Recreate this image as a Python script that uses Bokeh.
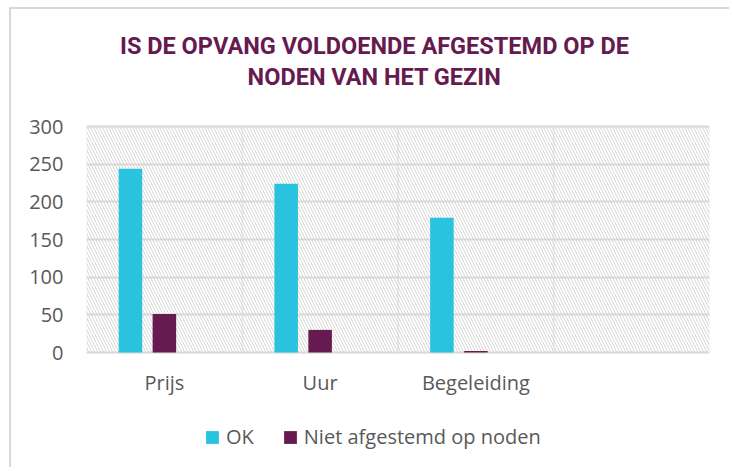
from bokeh.plotting import figure
from bokeh.models import (Range1d, FactorRange, FixedTicker, BoxAnnotation,
                          Legend, LegendItem, ColumnDataSource, Label)
from bokeh.transform import dodge
from bokeh.embed import file_html
from bokeh.resources import INLINE

# ---------------- data ----------------
title_lines = ["IS DE OPVANG VOLDOENDE AFGESTEMD OP DE", "NODEN VAN HET GEZIN"]
categories = ["Prijs", "Uur", "Begeleiding", " "]
series_names = ["OK", "Niet afgestemd op noden"]
ok_values = [244, 224, 179]
niet_values = [51, 30, 2]
y_ticks = [0, 50, 100, 150, 200, 250, 300]

# ---------------- style / layout ----------------
OK_COLOR = "#29C3E0"
NIET_COLOR = "#661A4F"
GRID = "#D9D9D9"
TEXT = "#595959"
FONT = "Open Sans"

W, H = 720, 460
PAD_LEFT, PAD_RIGHT = 75, 22          # plot area inside the canvas
AREA_TOP, AREA_H = 117, 226
AREA_BOTTOM = H - AREA_TOP - AREA_H
ppu = AREA_H / (y_ticks[-1] - y_ticks[0])  # pixels per value unit
y_start = y_ticks[0] - AREA_BOTTOM / ppu
y_end = y_ticks[-1] + AREA_TOP / ppu

source = ColumnDataSource(dict(cat=categories[:len(ok_values)], ok=ok_values, niet=niet_values))

p = figure(width=W, height=H,
           x_range=FactorRange(*categories), y_range=Range1d(y_start, y_end),
           output_backend="svg", toolbar_location=None,
           min_border_left=PAD_LEFT, min_border_right=PAD_RIGHT,
           min_border_top=0, min_border_bottom=0)
p.styles = {"margin-left": "9px", "margin-top": "7px",
            "border-left": "2px solid #D9D9D9", "border-top": "2px solid #D9D9D9"}

p.background_fill_color = "white"
p.border_fill_color = "white"
p.outline_line_color = None

# hatched plot area
p.add_layout(BoxAnnotation(left=0, right=len(categories), bottom=y_ticks[0], top=y_ticks[-1],
                           fill_alpha=0, line_color=None, hatch_pattern="\\",
                           hatch_color="#D6D6D6", hatch_scale=6, hatch_weight=1,
                           level="underlay"))

p.xgrid.grid_line_color = None
p.ygrid.grid_line_color = GRID
p.ygrid.grid_line_width = 2
p.ygrid.ticker = FixedTicker(ticks=y_ticks)
p.yaxis.ticker = FixedTicker(ticks=y_ticks)

# category cells (vertical separators + outer border)
for i in range(len(categories)):
    p.add_layout(BoxAnnotation(left=i, right=i + 1, bottom=y_ticks[0], top=y_ticks[-1],
                               fill_alpha=0, line_color=GRID, line_width=2,
                               level="underlay"))

for ax in (p.xaxis[0], p.yaxis[0]):
    ax.axis_line_color = None
    ax.major_tick_line_color = None
    ax.minor_tick_line_color = None
    ax.major_tick_out = 0
    ax.minor_tick_out = 0
    ax.major_label_text_font = FONT
    ax.major_label_text_font_size = "20px"
    ax.major_label_text_color = TEXT
p.yaxis.major_label_standoff = 23
p.xaxis.major_label_standoff = 16
p.xaxis.fixed_location = y_ticks[0]

bw = 0.151
r_ok = p.vbar(x=dodge("cat", -0.218, range=p.x_range), top="ok", width=bw,
              source=source, fill_color=OK_COLOR, line_color=None)
r_niet = p.vbar(x=dodge("cat", 0.0, range=p.x_range), top="niet", width=bw,
                source=source, fill_color=NIET_COLOR, line_color=None)

legend = Legend(items=[LegendItem(label=series_names[0], renderers=[r_ok]),
                       LegendItem(label=series_names[1], renderers=[r_niet])],
                orientation="horizontal", location=(118, 19),
                glyph_width=16, glyph_height=16, label_standoff=6, spacing=28,
                padding=0, margin=0, border_line_color=None, background_fill_alpha=0,
                label_text_font=FONT, label_text_font_size="20px", label_text_color=TEXT)
p.add_layout(legend)

# title, two centred lines
for txt, yy in zip(title_lines, [424, 393]):
    p.add_layout(Label(x=288, y=yy, x_units="screen", y_units="screen", text=txt,
                       text_align="center", text_baseline="middle",
                       text_font="Roboto", text_font_style="bold",
                       text_font_size="23.5px", text_color=NIET_COLOR))

open("out.html", "w").write(file_html(p, INLINE))
